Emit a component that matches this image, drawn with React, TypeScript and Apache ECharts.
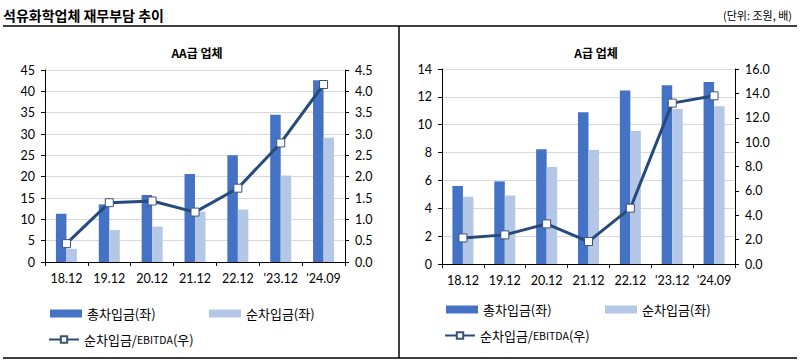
import React, { useEffect, useRef } from "react";
import * as echarts from "echarts";

const categories = ["18.12", "19.12", "20.12", "21.12", "22.12", "'23.12", "'24.09"];

const aaTotalDebt = [11.3, 13.5, 15.7, 20.6, 25.0, 34.5, 42.6];
const aaNetDebt = [3.1, 7.5, 8.3, 11.8, 12.3, 20.3, 29.1];
const aaRatio = [0.43, 1.39, 1.43, 1.17, 1.73, 2.79, 4.16];

const aTotalDebt = [5.6, 5.93, 8.24, 10.9, 12.46, 12.84, 13.06];
const aNetDebt = [4.83, 4.92, 6.96, 8.19, 9.55, 11.12, 11.33];
const aRatio = [2.14, 2.39, 3.29, 1.84, 4.58, 13.2, 13.8];

const mainTitle = "석유화학업체 재무부담 추이";
const unitText = "(단위: 조원, 배)";
const leftTitle = "AA급 업체";
const rightTitle = "A급 업체";
const nameTotal = "총차입금(좌)";
const nameNet = "순차입금(좌)";
const nameRatio = "순차입금/EBITDA(우)";

const KR = "'Noto Sans CJK KR', 'Noto Sans', sans-serif";
const NUM = "Lato, 'Noto Sans', sans-serif";
const DARK = "#4472C4";
const LIGHT = "#B4C7E7";
const LINE = "#254A7C";

export default function App() {
  const ref = useRef<HTMLDivElement>(null);
  useEffect(() => {
    document.body.style.margin = "0";
    const chart = echarts.init(ref.current!, undefined, { renderer: "svg" });

    const xAxisBase = (gridIndex: number) => ({
      type: "category",
      gridIndex,
      data: categories,
      axisLine: { lineStyle: { color: "#000", width: 1 } },
      axisTick: { show: true, length: 4, lineStyle: { color: "#000" } },
      axisLabel: { color: "#000", fontSize: 12.5, fontFamily: NUM, margin: 10, interval: 0 },
    });
    const yAxisBase = (gridIndex: number, max: number, interval: number, pos: string, split: boolean, dec: number) => ({
      type: "value",
      gridIndex,
      position: pos,
      min: 0,
      max,
      interval,
      axisLine: { show: true, lineStyle: { color: "#000", width: 1 } },
      axisTick: { show: true, length: 4, lineStyle: { color: "#000" } },
      axisLabel: {
        color: "#000",
        fontSize: 12.5,
        fontFamily: NUM,
        margin: 10,
        formatter: (v: number) => v.toFixed(dec),
      },
      splitLine: { show: split, lineStyle: { color: "#D9D9D9", width: 1 } },
    });

    const barSeries = (name: string, data: number[], color: string, xi: number, yi: number) => ({
      name,
      type: "bar",
      xAxisIndex: xi,
      yAxisIndex: yi,
      data,
      barWidth: 10.5,
      barGap: "0%",
      itemStyle: { color },
      z: 2,
    });
    const lineSeries = (data: number[], xi: number, yi: number) => ({
      name: nameRatio,
      type: "line",
      xAxisIndex: xi,
      yAxisIndex: yi,
      data,
      symbol: "rect",
      symbolSize: 8,
      lineStyle: { color: LINE, width: 3 },
      itemStyle: { color: "#fff", borderColor: "#3D5373", borderWidth: 1 },
      z: 5,
    });

    const legendItem = (name: string, left: number, top: number, isLine = false) => ({
      data: [name],
      left,
      top,
      orient: "horizontal",
      icon: isLine ? undefined : "rect",
      itemWidth: isLine ? 30 : 32,
      itemHeight: 8,
      selectedMode: false,
      textStyle: {
        fontSize: 13,
        fontFamily: KR,
        color: "#000",
        rich: {
          a: { fontSize: 13, fontFamily: KR, color: "#000" },
          b: { fontSize: 10.5, fontFamily: KR, color: "#000" },
        },
      },
      formatter: isLine ? () => "{a|순차입금/}{b|EBITDA}{a|(우)}" : undefined,
    });

    chart.setOption({
      animation: false,
      grid: [
        { left: 45, top: 70, width: 300, height: 192 },
        { left: 442, top: 69, width: 293, height: 195 },
      ],
      xAxis: [xAxisBase(0), xAxisBase(1)],
      yAxis: [
        yAxisBase(0, 45, 5, "left", true, 0),
        yAxisBase(0, 4.5, 0.5, "right", false, 1),
        yAxisBase(1, 14, 2, "left", true, 0),
        yAxisBase(1, 16, 2, "right", false, 1),
      ],
      legend: [
        legendItem(nameTotal, 45, 302),
        legendItem(nameNet, 204, 302),
        legendItem(nameRatio, 43, 328, true),
        legendItem(nameTotal, 441, 298),
        legendItem(nameNet, 600, 298),
        legendItem(nameRatio, 439, 324, true),
      ],
      series: [
        barSeries(nameTotal, aaTotalDebt, DARK, 0, 0),
        barSeries(nameNet, aaNetDebt, LIGHT, 0, 0),
        lineSeries(aaRatio, 0, 1),
        barSeries(nameTotal, aTotalDebt, DARK, 1, 2),
        barSeries(nameNet, aNetDebt, LIGHT, 1, 2),
        lineSeries(aRatio, 1, 3),
      ],
      graphic: [
        {
          type: "text",
          left: 3,
          top: 8,
          style: { text: mainTitle, font: `bold 14px ${KR}`, fill: "#000" },
        },
        {
          type: "text",
          right: 10,
          top: 9,
          style: { text: unitText, font: `11px ${KR}`, fill: "#000" },
        },
        {
          type: "text",
          x: 197,
          y: 52,
          style: { text: leftTitle, font: `bold 12px ${KR}`, fill: "#000", align: "center", verticalAlign: "middle" },
        },
        {
          type: "text",
          x: 596,
          y: 52,
          style: { text: rightTitle, font: `bold 12px ${KR}`, fill: "#000", align: "center", verticalAlign: "middle" },
        },
        { type: "line", shape: { x1: 3, y1: 26, x2: 797, y2: 26 }, style: { stroke: "#000", lineWidth: 1.5 } },
        { type: "line", shape: { x1: 3, y1: 358, x2: 797, y2: 358 }, style: { stroke: "#000", lineWidth: 1.5 } },
        { type: "line", shape: { x1: 399, y1: 26, x2: 399, y2: 358 }, style: { stroke: "#000", lineWidth: 1.5 } },
      ],
    });
    return () => chart.dispose();
  }, []);
  return <div ref={ref} style={{ width: 802, height: 361 }} />;
}
